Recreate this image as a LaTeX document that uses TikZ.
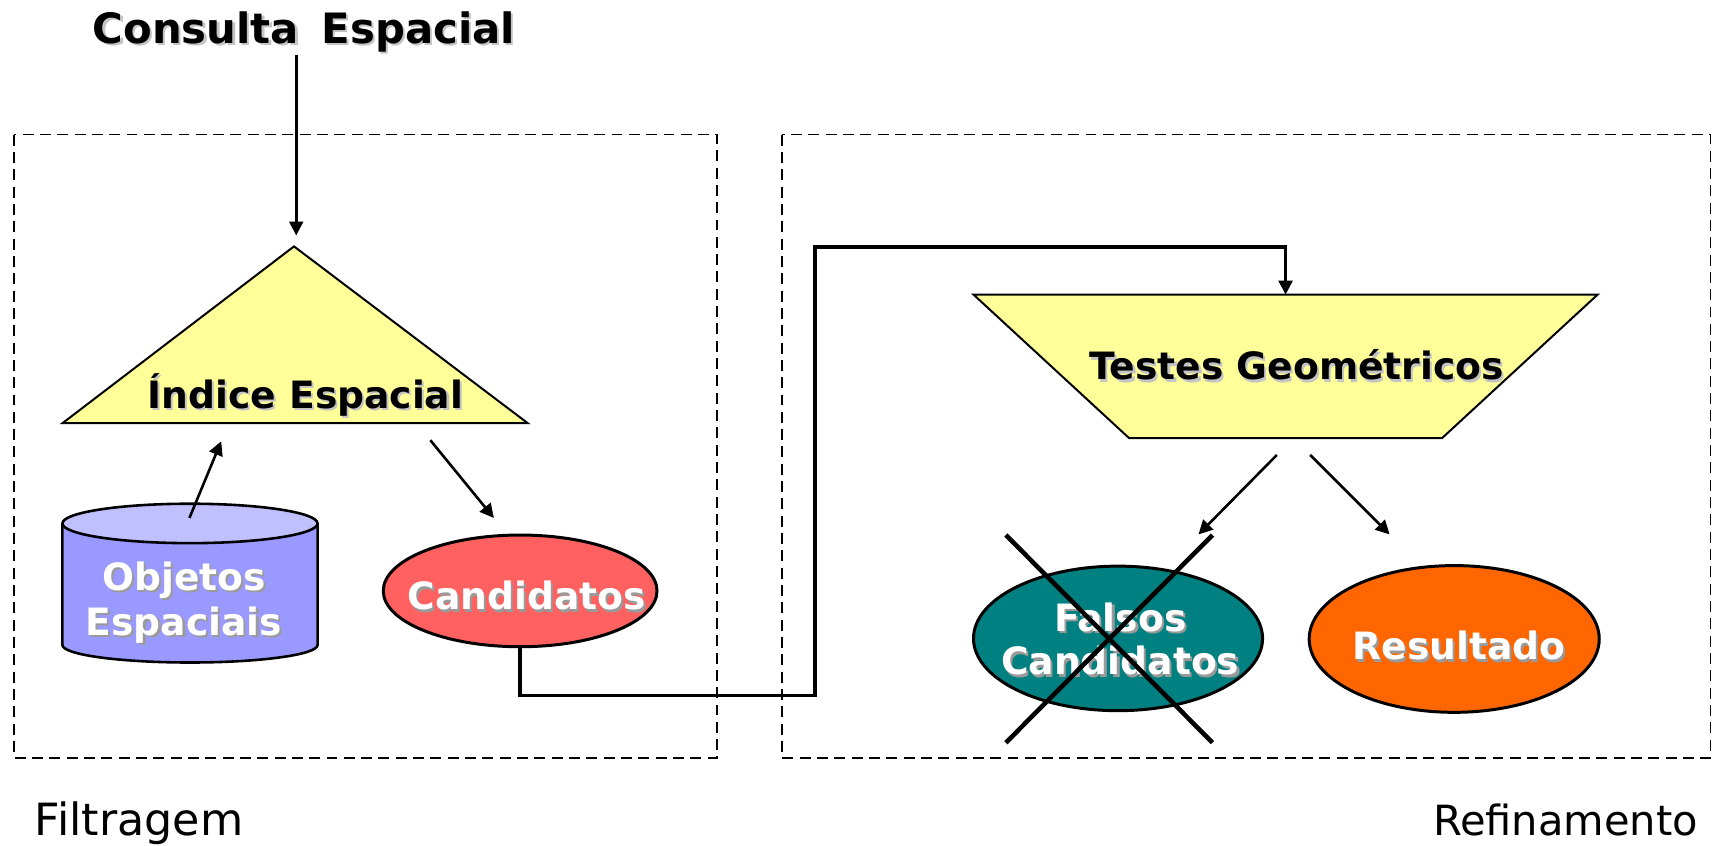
\documentclass[tikz,border=0pt]{standalone}
\usepackage{fontspec}
\setmainfont{DejaVu Sans}
\usetikzlibrary{arrows.meta,shapes.geometric}
\definecolor{paleyel}{HTML}{FFFF99}
\definecolor{cylbody}{HTML}{9999FF}
\definecolor{cyltop}{HTML}{C0C0FF}
\definecolor{candred}{HTML}{FF6060}
\definecolor{tealc}{HTML}{008080}
\definecolor{orangec}{HTML}{FF6600}
\definecolor{shblack}{HTML}{C4C4C4}
\definecolor{shwhite}{HTML}{9A9A9A}
\newcommand\shd[2]{\makebox[0pt][l]{\hspace{1.1pt}\raisebox{-1.1pt}{\textcolor{#1}{#2}}}#2}
\tikzset{
  frame/.style={draw, dash pattern=on 5.5pt off 3.2pt, line width=0.8pt},
  yshape/.style={draw, fill=paleyel, line width=1pt, line join=miter},
  blob/.style={ellipse, draw, line width=1.5pt, inner sep=0pt},
  arr/.style={-{Triangle[length=7pt,width=7pt]}, line width=1.3pt},
  conn/.style={line width=1.8pt},
  crossln/.style={line width=2.3pt},
  lbl/.style={inner sep=0pt, anchor=base, font=\fontsize{18.9}{22}\selectfont\bfseries},
  wlbl/.style={lbl, text=white},
  side/.style={inner sep=0pt}
}
\begin{document}
\begin{tikzpicture}[x=0.55pt,y=-0.55pt]
\useasboundingbox (0,0) rectangle (1568,772);

% dashed frames
\draw[frame] (13,123) rectangle (655,692);
\draw[frame] (714,123) rectangle (1562,692);

% title and query arrow
\node[inner sep=0pt, anchor=base, font=\fontsize{21}{25}\selectfont\bfseries] (consT) at (277.5,39.6) {\shd{shblack}{Consulta\hspace{4pt} Espacial}};
\coordinate (qTop) at (270.5,50);
\coordinate (tA) at (268.5,225);
\coordinate (qTip) at (270.5,215);
\draw[arr] (qTop) -- (qTip);

% spatial index triangle
\coordinate (tL) at (57,386.5);
\coordinate (tR) at (482,386.5);
\draw[yshape] (tA) -- (tR) -- (tL) -- cycle;
\node[lbl] (idxT) at (279,372.8) {\shd{shblack}{Índice Espacial}};

% cylinder
\path[fill=cylbody] (57,478) -- (57,589) arc[start angle=180,end angle=0,x radius=116.5,y radius=16] -- (290,478) -- cycle;
\draw[line width=1.3pt] (57,478) -- (57,589) arc[start angle=180,end angle=0,x radius=116.5,y radius=16] -- (290,478);
\draw[fill=cyltop, line width=1.3pt] (173.5,478) ellipse[x radius=116.5,y radius=18];
\node[wlbl] (objT1) at (168,538.8) {\shd{shwhite}{Objetos}};
\node[wlbl] (objT2) at (168,579.9) {\shd{shwhite}{Espaciais}};

\coordinate (cylOut) at (173,473);
\coordinate (idxIn) at (202,403);
\draw[arr] (cylOut) -- (idxIn);

% candidates
\node[blob, fill=candred, minimum width=137.5pt, minimum height=56.1pt] (cand) at (475,539.6) {};
\node[wlbl] (candT) at (481,557) {\shd{shwhite}{Candidatos}};
\coordinate (idxOut) at (393,402);
\coordinate (candIn) at (451,473);
\draw[arr] (idxOut) -- (candIn);

% geometric tests trapezoid
\coordinate (q1) at (889,269);
\coordinate (q2) at (1459,269);
\coordinate (q3) at (1317,400);
\coordinate (q4) at (1031,400);
\draw[yshape] (q1) -- (q2) -- (q3) -- (q4) -- cycle;
\node[lbl] (tstT) at (1184,347) {\shd{shblack}{Testes Geométricos}};

% connector candidates -> tests
\coordinate (j1) at (744,635);
\coordinate (j2) at (744,225.5);
\coordinate (tIn) at (1174,269);
\draw[conn] (cand.south) |- (j1) -- (j2) -| ([yshift=6pt]tIn);
\draw[arr] ([yshift=6.5pt]tIn) -- (tIn);

% outputs
\node[blob, fill=tealc, minimum width=145.2pt, minimum height=72.6pt] (fals) at (1021,583) {};
\node[wlbl] (falT1) at (1023,576.9) {\shd{shwhite}{Falsos}};
\node[wlbl] (falT2) at (1023,616.4) {\shd{shwhite}{Candidatos}};
\node[blob, fill=orangec, minimum width=145.7pt, minimum height=73.7pt] (res) at (1328,583.5) {};
\node[wlbl] (resT) at (1332.5,602.7) {\shd{shwhite}{Resultado}};

\coordinate (tOut1) at (1166,415.5);
\coordinate (falIn) at (1094.5,488);
\coordinate (tOut2) at (1196.5,415.5);
\coordinate (resIn) at (1269,488);
\draw[arr] (tOut1) -- (falIn);
\draw[arr] (tOut2) -- (resIn);

% cross over false candidates
\coordinate (x1) at (918.6,488.6);
\coordinate (x2) at (1107.3,678.2);
\coordinate (x3) at (1107.3,488.6);
\coordinate (x4) at (918.6,678.2);
\draw[crossln] (x1) -- (x2);
\draw[crossln] (x3) -- (x4);

% side labels
\node[side, anchor=base west, font=\fontsize{22.3}{26}\selectfont] (filT) at (31.4,762.6) {Filtragem};
\node[side, anchor=base east, font=\fontsize{20.9}{25}\selectfont] (refT) at (1551,762.6) {Refinamento};
\end{tikzpicture}
\end{document}
